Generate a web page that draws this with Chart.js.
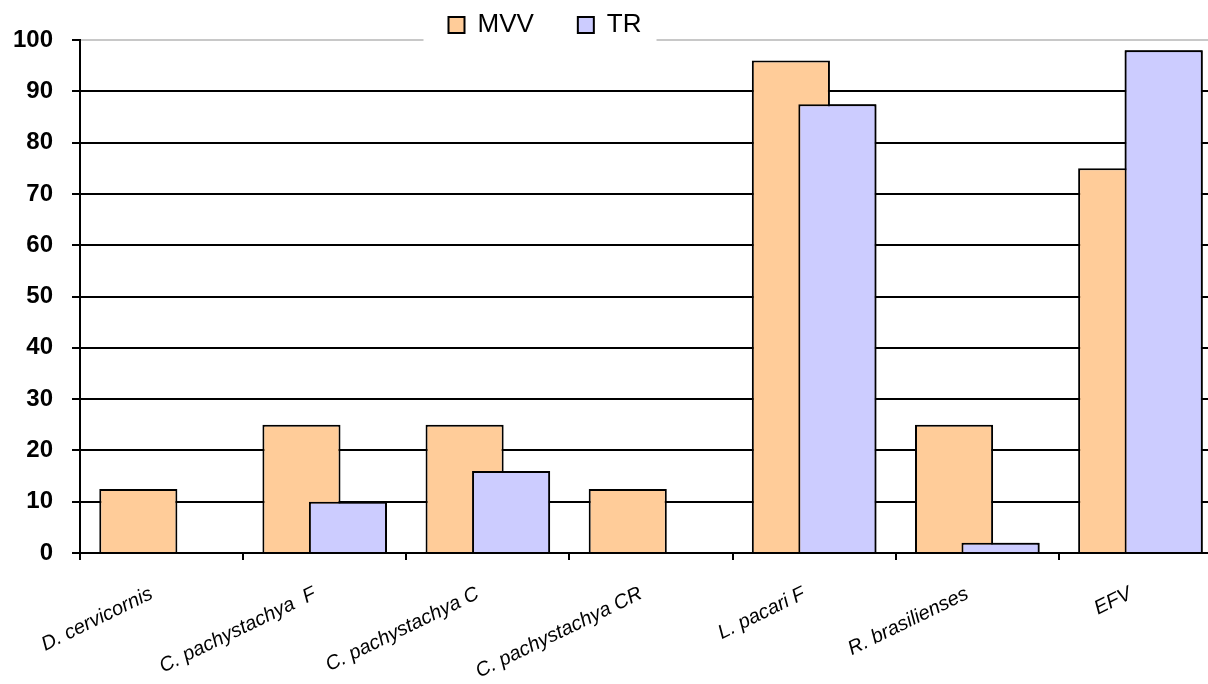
<!DOCTYPE html>
<html lang="en">
<head>
    <meta charset="UTF-8">
    <title>MVV / TR</title>
    <script src="https://cdn.jsdelivr.net/npm/chart.js"></script>
    <style>
        html, body { margin: 0; padding: 0; background: #fff; overflow: hidden; }
        #chart { display: block; }
    </style>
</head>
<body>
    <canvas id="chart" width="1222" height="684"></canvas>

    <script>
        // values
        const categories = ['D. cervicornis', 'C. pachystachya  F', 'C. pachystachya C', 'C. pachystachya CR', 'L. pacari F', 'R. brasilienses', 'EFV'];
        const mvvValues = [12.5, 25, 25, 12.5, 96, 25, 75];
        const trValues = [0, 10, 16, 0, 87.5, 2, 98];
        const yTicks = [0, 10, 20, 30, 40, 50, 60, 70, 80, 90, 100];

        const FONT = '"Liberation Sans", Arial, sans-serif';

        // legend: fixed height, shifted left, white backing over the top gridline
        const legendTweak = {
            id: 'legendTweak',
            beforeUpdate(chart) {
                const legend = chart.legend;
                if (!legend || legend._tweaked) return;
                legend._tweaked = true;
                const fit = legend.fit;
                legend.fit = function () {
                    fit.call(this);
                    this.height = 72;
                };
                const draw = legend.draw;
                legend.draw = function () {
                    const ctx = this.ctx;
                    const boxes = this.legendHitBoxes;
                    ctx.save();
                    ctx.translate(-66, 0);
                    if (boxes.length) {
                        const first = boxes[0];
                        const last = boxes[boxes.length - 1];
                        ctx.fillStyle = '#fff';
                        ctx.fillRect(first.left - 25, 0, last.left + last.width - first.left + 40, chart.chartArea.top + 2);
                    }
                    draw.call(this);
                    ctx.restore();
                };
            },
            // TR bars sit on top of the MVV bars where they overlap
            afterDatasetsDraw(chart) {
                const meta = chart.getDatasetMeta(1);
                if (meta && meta.controller) meta.controller.draw();
            }
        };

        const ctx = document.getElementById('chart').getContext('2d');
        const chart = new Chart(ctx, {
            type: 'bar',
            data: {
                labels: categories,
                datasets: [
                    {
                        label: 'MVV',
                        data: mvvValues,
                        backgroundColor: '#FFCC99',
                        borderColor: '#000',
                        borderWidth: 2,
                        borderSkipped: 'start',
                        categoryPercentage: 0.57,
                        barPercentage: 1.68
                    },
                    {
                        label: 'TR',
                        data: trValues,
                        backgroundColor: '#CCCCFF',
                        borderColor: '#000',
                        borderWidth: 2,
                        borderSkipped: 'start',
                        categoryPercentage: 0.57,
                        barPercentage: 1.68
                    }
                ]
            },
            options: {
                responsive: false,
                animation: false,
                layout: { padding: { top: -32, left: 0, right: 0, bottom: 0 } },
                plugins: {
                    tooltip: { enabled: false },
                    legend: {
                        position: 'top',
                        align: 'center',
                        labels: {
                            boxWidth: 16,
                            boxHeight: 16,
                            padding: 44,
                            color: '#000',
                            font: { family: FONT, size: 26 }
                        }
                    }
                },
                scales: {
                    x: {
                        offset: true,
                        grid: {
                            offset: true,
                            drawOnChartArea: false,
                            drawTicks: true,
                            tickLength: 7,
                            color: '#000',
                            lineWidth: 2
                        },
                        border: { display: true, color: '#000', width: 2 },
                        ticks: {
                            minRotation: 26,
                            maxRotation: 26,
                            autoSkip: false,
                            padding: 22,
                            labelOffset: -10,
                            color: '#000',
                            font: { family: FONT, size: 20, style: 'italic' }
                        },
                        afterFit(scale) { scale.height = 131; }
                    },
                    y: {
                        min: 0,
                        max: 100,
                        afterBuildTicks(scale) { scale.ticks = yTicks.map(v => ({ value: v })); },
                        grid: {
                            color: c => (c.tick && c.tick.value === 100 ? '#c8c8c8' : '#000'),
                            tickColor: '#000',
                            lineWidth: 2,
                            tickLength: 8
                        },
                        border: { display: true, color: '#000', width: 2 },
                        ticks: {
                            padding: 19,
                            color: '#000',
                            font: { family: FONT, size: 24, weight: 'bold' }
                        },
                        afterFit(scale) { scale.width = 80; }
                    }
                }
            },
            plugins: [legendTweak]
        });
    </script>
</body>
</html>
